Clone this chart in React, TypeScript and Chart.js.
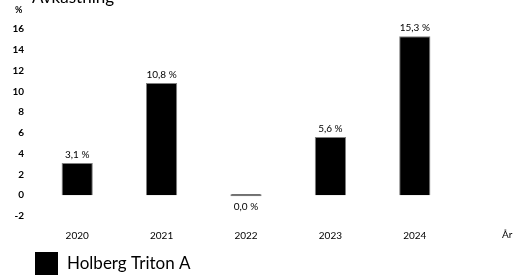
import React, { useEffect, useRef } from "react";
import { Chart, registerables } from "chart.js";

Chart.register(...registerables);

// ---- data ----
const categories: string[] = ["2020", "2021", "2022", "2023", "2024"];
const values: number[] = [3.1, 10.8, 0.0, 5.6, 15.3];
const seriesName = "Holberg Triton A";
const chartTitle = "Avkastning";
const yUnit = "%";
const xUnit = "År";
const yMin = -2;
const yMax = 16;
const yStep = 2;

const FONT = "Lato";
const BAR_COLOR = "#000000";
const BAR_BORDER = "#808080";

const fmt = (v: number) => v.toFixed(1).replace(".", ",") + " %";

const valueLabelPlugin = {
  id: "valueLabels",
  afterDatasetsDraw(chart: any) {
    const ctx = chart.ctx;
    const meta = chart.getDatasetMeta(0);
    const data = chart.data.datasets[0].data as number[];
    ctx.save();
    ctx.font = `10px ${FONT}`;
    ctx.fillStyle = "#000";
    ctx.textAlign = "center";
    meta.data.forEach((bar: any, i: number) => {
      const v = data[i];
      if (v > 0) {
        ctx.textBaseline = "bottom";
        ctx.fillText(fmt(v), bar.x, Math.min(bar.y, bar.base) - 3);
      } else {
        ctx.textBaseline = "middle";
        ctx.fillText(fmt(v), bar.x, Math.max(bar.y, bar.base) + 11);
      }
    });
    ctx.restore();
  },
};

const extraTextPlugin = {
  id: "extraText",
  afterDraw(chart: any) {
    const ctx = chart.ctx;
    const ds = chart.data.datasets[0];
    ctx.save();
    ctx.fillStyle = "#000";
    // title (partly cut off at top)
    ctx.font = `17px ${FONT}`;
    ctx.textAlign = "left";
    ctx.textBaseline = "alphabetic";
    ctx.fillText(chartTitle, 32, 3);
    // y unit
    ctx.font = `bold 9px ${FONT}`;
    ctx.textBaseline = "middle";
    ctx.fillText(yUnit, 15, 10);
    // x unit
    const xs = chart.scales.x;
    ctx.font = `10px ${FONT}`;
    ctx.textAlign = "left";
    ctx.fillText(xUnit, 502, xs.top + 19);
    // legend
    ctx.fillStyle = ds.backgroundColor;
    ctx.fillRect(35, 252, 23, 23);
    ctx.fillStyle = "#000";
    ctx.font = `17px ${FONT}`;
    ctx.textBaseline = "middle";
    ctx.fillText(ds.label, 67, 264);
    ctx.restore();
  },
};

export default function App() {
  const ref = useRef<HTMLCanvasElement | null>(null);
  useEffect(() => {
    if (!ref.current) return;
    const chart = new Chart(ref.current, {
      type: "bar",
      data: {
        labels: categories,
        datasets: [
          {
            label: seriesName,
            data: values,
            backgroundColor: BAR_COLOR,
            borderColor: BAR_BORDER,
            borderWidth: 1,
            minBarLength: 2,
            categoryPercentage: 1,
            barPercentage: 0.37,
          },
        ],
      },
      options: {
        animation: false,
        responsive: false,
        layout: { padding: { top: 29, right: 58, bottom: 20, left: 0 } },
        plugins: {
          legend: { display: false },
          tooltip: { enabled: false },
          title: { display: false },
        },
        scales: {
          x: {
            grid: { display: false, drawTicks: false },
            border: { display: false },
            ticks: { color: "#000", font: { family: FONT, size: 10 }, padding: 14 },
            afterFit: (s: any) => {
              s.height = 40;
            },
          },
          y: {
            min: yMin,
            max: yMax,
            grid: { display: false, drawTicks: false },
            border: { display: false },
            ticks: {
              stepSize: yStep,
              color: "#000",
              font: { family: FONT, size: 10, weight: "bold" },
              padding: 11,
            },
            afterFit: (s: any) => {
              s.width = 35;
            },
          },
        },
      },
      plugins: [valueLabelPlugin, extraTextPlugin],
    });
    return () => chart.destroy();
  }, []);
  return (
    <div style={{ position: "absolute", left: 0, top: 0, width: 515, height: 276, background: "#fff" }}>
      <canvas ref={ref} width={515} height={276} style={{ display: "block" }} />
    </div>
  );
}
